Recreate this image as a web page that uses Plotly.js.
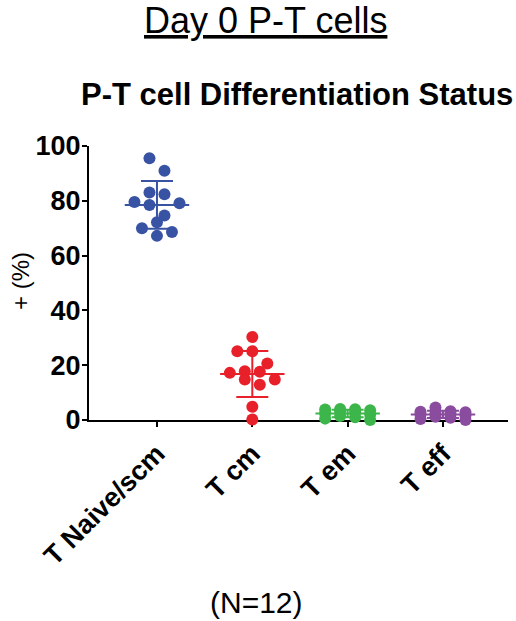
<!DOCTYPE html>
<html>
<head>
<meta charset="utf-8">
<script src="https://cdn.plot.ly/plotly-3.0.1.min.js"></script>
<style>html,body{margin:0;padding:0;background:#fff;}#chart{width:516px;height:621px;}</style>
</head>
<body>
<div id="chart"></div>
<script>
// ---- data ----
const categories = ["T Naive/scm", "T cm", "T em", "T eff"];
const naiveValues = [95.5, 91.0, 83.0, 82.4, 79.6, 79.1, 78.5, 74.6, 72.2, 70.0, 68.6, 67.2];
const cmValues    = [30.3, 25.1, 25.1, 20.6, 17.8, 17.6, 17.2, 14.8, 14.8, 12.9, 4.8, 0.2];
const emValues    = [4.0, 3.9, 3.8, 3.6, 3.2, 2.8, 2.4, 2.0, 1.5, 1.0, 0.5, 0.0];
const effValues   = [4.6, 3.2, 3.0, 2.8, 2.5, 2.2, 2.0, 1.6, 1.2, 0.8, 0.4, 0.0];
const yTickVals = [0, 20, 40, 60, 80, 100];
const yTickText = ["0", "20", "40", "60", "80", "100"];

// ---- styles / geometry ----
const colors = ["#3953A4", "#E8202A", "#3CB54A", "#8A4C9E"];
const W = 516, H = 621;
const margin = {l: 89, r: 8, t: 146, b: 201, pad: 0};
const xRange = [-0.713, 3.682];
const yRange = [0, 100];
const plotW = W - margin.l - margin.r;
const plotH = H - margin.t - margin.b;
const pxPerX = plotW / (xRange[1] - xRange[0]);
const pxPerY = plotH / (yRange[1] - yRange[0]);

const FONT = "Liberation Sans, Arial, Helvetica, sans-serif";

// Prism-like swarm: group values into rows, centre each row on the category
function swarm(values, cat) {
  const rowThresh = 12.5, maxRow = 4, step = 15;
  const order = values.map((v, i) => i).sort((a, b) => values[b] - values[a]);
  const xs = new Array(values.length);
  let i = 0;
  while (i < order.length) {
    const row = [order[i]];
    const v0 = values[order[i]];
    let j = i + 1;
    while (j < order.length && row.length < maxRow && (v0 - values[order[j]]) * pxPerY < rowThresh) {
      row.push(order[j]); j++;
    }
    const n = row.length;
    const slots = [];
    if (n % 2 === 1) { slots.push(0); for (let k = 1; slots.length < n; k++) { slots.push(-k); if (slots.length < n) slots.push(k); } }
    else { for (let k = 0.5; slots.length < n; k++) { slots.push(-k); if (slots.length < n) slots.push(k); } }
    row.forEach((idx, r) => { xs[idx] = cat + slots[r] * step / pxPerX; });
    i = j;
  }
  return xs;
}
function mean(a) { return a.reduce((s, v) => s + v, 0) / a.length; }
function sd(a) { const m = mean(a); return Math.sqrt(a.reduce((s, v) => s + (v - m) * (v - m), 0) / (a.length - 1)); }

const groups = [naiveValues, cmValues, emValues, effValues];
const traces = [];
// mean ± SD first, so the dots sit on top
groups.forEach((vals, c) => {
  traces.push({
    type: "scatter", mode: "markers", x: [c], y: [mean(vals)],
    marker: {symbol: "line-ew", size: 46, color: colors[c], line: {color: colors[c], width: 2}},
    error_y: {type: "data", array: [sd(vals)], visible: true, color: colors[c], thickness: 2, width: 16},
    cliponaxis: false, hoverinfo: "skip", showlegend: false
  });
});
groups.forEach((vals, c) => {
  traces.push({
    type: "scatter", mode: "markers", x: swarm(vals, c), y: vals,
    marker: {color: colors[c], size: 12, line: {width: 0}},
    cliponaxis: false, hoverinfo: "skip", showlegend: false
  });
});

const layout = {
  width: W, height: H, margin: margin,
  paper_bgcolor: "#fff", plot_bgcolor: "#fff",
  font: {family: FONT, color: "#000"},
  showlegend: false,
  xaxis: {
    range: xRange, tickvals: [0, 1, 2, 3], ticktext: categories, tickangle: -45,
    showline: true, linecolor: "#000", linewidth: 2, layer: "below traces",
    ticks: "outside", ticklen: 5, tickwidth: 2, tickcolor: "#000",
    showgrid: false, zeroline: false, fixedrange: true,
    tickfont: {family: FONT, size: 27, color: "#000", weight: "bold"}
  },
  yaxis: {
    range: yRange, tickvals: yTickVals, ticktext: yTickText,
    showline: true, linecolor: "#000", linewidth: 2, layer: "below traces",
    ticks: "outside", ticklen: 5, tickwidth: 2, tickcolor: "#000",
    ticklabelstandoff: -4,
    showgrid: false, zeroline: false, fixedrange: true,
    tickfont: {family: FONT, size: 27, color: "#000", weight: "bold"}
  },
  annotations: [
    {text: "<u>Day 0 P-T cells</u>", xref: "paper", yref: "paper",
     x: (265 - margin.l) / plotW, y: (H - margin.b - 20) / plotH, xanchor: "center", yanchor: "middle",
     showarrow: false, font: {family: FONT, size: 36, color: "#000"}},
    {text: "<b>P-T cell Differentiation Status</b>", xref: "paper", yref: "paper",
     x: (297 - margin.l) / plotW, y: (H - margin.b - 94) / plotH, xanchor: "center", yanchor: "middle",
     showarrow: false, font: {family: FONT, size: 31, color: "#000"}},
    {text: "+ (%)", xref: "paper", yref: "paper", textangle: -90,
     x: (20 - margin.l) / plotW, y: (H - margin.b - 281) / plotH, xanchor: "center", yanchor: "middle",
     showarrow: false, font: {family: FONT, size: 24, color: "#000"}},
    {text: "(N=12)", xref: "paper", yref: "paper",
     x: (256 - margin.l) / plotW, y: (H - margin.b - 602) / plotH, xanchor: "center", yanchor: "middle",
     showarrow: false, font: {family: FONT, size: 30, color: "#000"}}
  ]
};

Plotly.newPlot("chart", traces, layout, {staticPlot: true, displayModeBar: false});
</script>
</body>
</html>
